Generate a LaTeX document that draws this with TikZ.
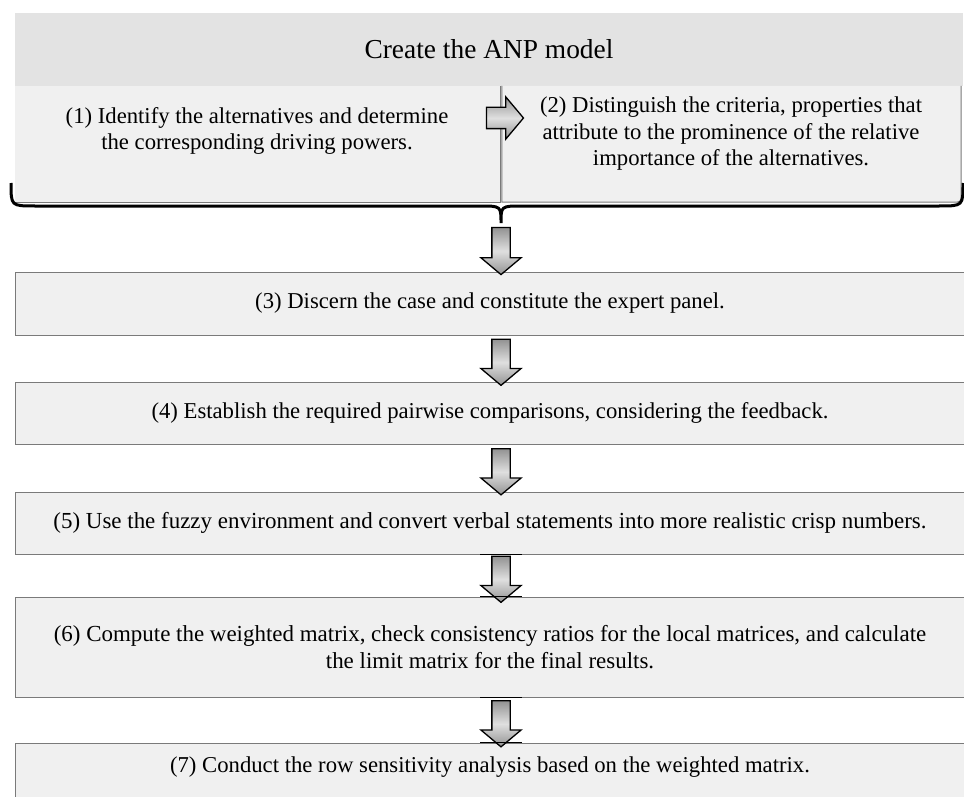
\documentclass[tikz,border=0pt]{standalone}
\usepackage{fontspec}
\setmainfont{Liberation Serif}
\usetikzlibrary{shapes.arrows,calc}

\definecolor{panelfill}{HTML}{F0F0F0}
\definecolor{headfill}{HTML}{E3E3E3}
\definecolor{rulegray}{HTML}{7A7A7A}

\begin{document}
\begin{tikzpicture}[x=1pt,y=-1pt,
    body/.style={font=\fontsize{22.7}{26.5}\selectfont, align=center, inner sep=0pt},
    wide/.style={font=\fontsize{22.95}{26.5}\selectfont},
    panel/.style={fill=panelfill, inner sep=0pt},
    stage/.style={panel, body, draw=rulegray, line width=1pt, minimum width=950pt},
    blockarrow/.style={single arrow, draw=black, line width=1.3pt, inner xsep=0pt, inner ysep=8.5pt,
        single arrow head extend=11pt, single arrow tip angle=100,
        top color=gray!85, bottom color=gray!85, middle color=gray!25},
    stub/.style={line width=1.5pt}]
    \def\gap{21}
\useasboundingbox (0,0) rectangle (964,797);
\coordinate (ax) at (501,0);
\coordinate (fork) at (501,223);
% header and the two first steps
\node[panel, fill=headfill, minimum width=948pt, minimum height=73pt, font=\fontsize{27.4}{32}\selectfont] (hdr) at (489,49.5) {Create the ANP model};
\node[panel, minimum width=485pt, minimum height=116pt] (b1) at (257.5,144) {};
\node[minimum width=459pt, minimum height=116pt, inner sep=0pt] (b2) at (731.5,144) {};
\fill[panelfill] (b2.north west) -- (b2.north east) -- ($(b2.south east)+(0,-9)$) .. controls (b2.south east) .. ($(b2.south east)+(-9,0)$) -- (b2.south west) -- cycle;
\draw[rulegray, line width=1pt] (b1.south west) -- (b1.south east) -- (b1.north east);
\draw[rulegray, line width=1pt] (b2.north east) -- ($(b2.south east)+(0,-9)$) .. controls (b2.south east) .. ($(b2.south east)+(-9,0)$) -- (b2.south west) -- (b2.north west);
\node[body] (t1) at (257,131) {(1) Identify the alternatives and determine\\the corresponding driving powers.};
\node[body] (t2) at (731,134) {(2) Distinguish the criteria, properties that\\attribute to the prominence of the relative\\importance of the alternatives.};
\node[blockarrow, minimum height=37pt, inner ysep=10pt, single arrow head extend=10.5pt] (a12) at (500.5,118) {};
\draw[line width=3pt] (11,183) .. controls (11,206) .. (35,206) -- (480,206) .. controls (fork |- 0,206) .. (fork) .. controls (fork |- 0,206) .. (522,206) -- (939,206) .. controls (963,206) .. (963,183);
% the remaining steps
\node[stage, minimum height=63pt] (b3) at (490,303.5) {(3) Discern the case and constitute the expert panel.};
\node[stage, minimum height=62pt] (b4) at (490,413) {(4) Establish the required pairwise comparisons, considering the feedback.};
\node[stage, wide, minimum height=62pt] (b5) at (490,523) {(5) Use the fuzzy environment and convert verbal statements into more realistic crisp numbers.};
\node[stage, wide, minimum height=100pt] (b6) at (490,647) {(6) Compute the weighted matrix, check consistency ratios for the local matrices, and calculate\\the limit matrix for the final results.};
\node[stage, minimum height=62pt] (b7) at (490,774) {};
\node[body] (t7) at (490,767) {(7) Conduct the row sensitivity analysis based on the weighted matrix.};
\node[blockarrow, rotate=-90, minimum height=47pt] (a23) at ($(fork)!.5!(b3.north -| ax)$) {};
\foreach \u/\v in {b3/b4,b4/b5,b5/b6,b6/b7}
  \node[blockarrow, rotate=-90, minimum height=46pt] (a-\u) at ($(\u.south -| ax)!.5!(\v.north -| ax)$) {};
\foreach \p in {b5.south,b6.north,b6.south,b7.north}
  \draw[stub] ($(\p -| ax)+(-\gap,0)$) -- ($(\p -| ax)+(\gap,0)$);
\end{tikzpicture}
\end{document}
